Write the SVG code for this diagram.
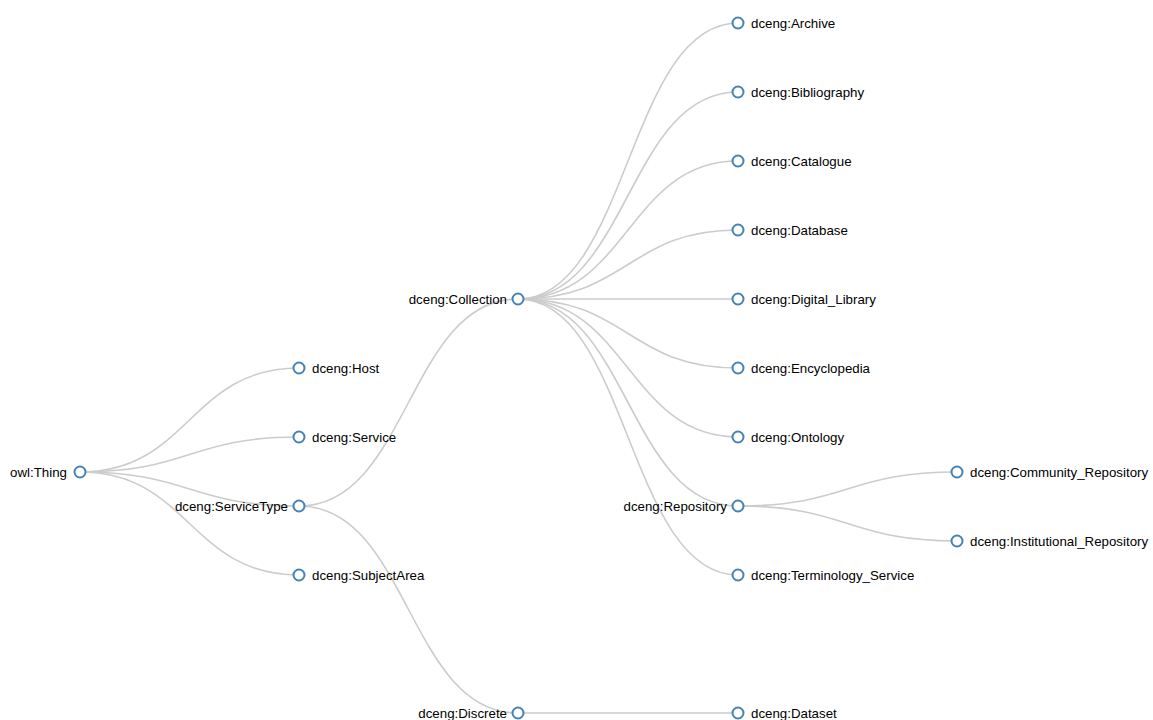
<svg xmlns="http://www.w3.org/2000/svg" width="1153" height="720" viewBox="0 0 1153 720">
<style>
.link{fill:none;stroke:#cccccc;stroke-width:1.6}
.node circle{fill:#fff;stroke:#4682b4;stroke-width:2}
.node text{font-family:"Liberation Sans",Arial,sans-serif;font-size:13.3px;fill:#000}
.l{text-anchor:start}
.r{text-anchor:end}
</style>
<rect width="1153" height="720" fill="#fff"/>
<g id="links">
<path class="link" d="M80,472C189.5,472 189.5,368 299,368"/>
<path class="link" d="M80,472C189.5,472 189.5,437 299,437"/>
<path class="link" d="M80,472C189.5,472 189.5,506 299,506"/>
<path class="link" d="M80,472C189.5,472 189.5,575 299,575"/>
<path class="link" d="M299,506C408.5,506 408.5,299 518,299"/>
<path class="link" d="M299,506C408.5,506 408.5,713 518,713"/>
<path class="link" d="M518,299C628,299 628,23 738,23"/>
<path class="link" d="M518,299C628,299 628,92 738,92"/>
<path class="link" d="M518,299C628,299 628,161 738,161"/>
<path class="link" d="M518,299C628,299 628,230 738,230"/>
<path class="link" d="M518,299C628,299 628,299 738,299"/>
<path class="link" d="M518,299C628,299 628,368 738,368"/>
<path class="link" d="M518,299C628,299 628,437 738,437"/>
<path class="link" d="M518,299C628,299 628,506 738,506"/>
<path class="link" d="M518,299C628,299 628,575 738,575"/>
<path class="link" d="M518,713C628,713 628,713 738,713"/>
<path class="link" d="M738,506C847.5,506 847.5,472 957,472"/>
<path class="link" d="M738,506C847.5,506 847.5,541 957,541"/>
</g>
<g id="n-thing" class="node"><circle cx="80" cy="472" r="5.5"/><text class="r" x="67" y="477">owl:Thing</text></g>
<g id="n-host" class="node"><circle cx="299" cy="368" r="5.5"/><text class="l" x="312" y="373">dceng:Host</text></g>
<g id="n-service" class="node"><circle cx="299" cy="437" r="5.5"/><text class="l" x="312" y="442">dceng:Service</text></g>
<g id="n-servicetype" class="node"><circle cx="299" cy="506" r="5.5"/><text class="r" x="288" y="511">dceng:ServiceType</text></g>
<g id="n-subjectarea" class="node"><circle cx="299" cy="575" r="5.5"/><text class="l" x="312" y="580">dceng:SubjectArea</text></g>
<g id="n-collection" class="node"><circle cx="518" cy="299" r="5.5"/><text class="r" x="507" y="304">dceng:Collection</text></g>
<g id="n-discrete" class="node"><circle cx="518" cy="713" r="5.5"/><text class="r" x="507" y="718">dceng:Discrete</text></g>
<g id="n-archive" class="node"><circle cx="738" cy="23" r="5.5"/><text class="l" x="751" y="28">dceng:Archive</text></g>
<g id="n-bibliography" class="node"><circle cx="738" cy="92" r="5.5"/><text class="l" x="751" y="97">dceng:Bibliography</text></g>
<g id="n-catalogue" class="node"><circle cx="738" cy="161" r="5.5"/><text class="l" x="751" y="166">dceng:Catalogue</text></g>
<g id="n-database" class="node"><circle cx="738" cy="230" r="5.5"/><text class="l" x="751" y="235">dceng:Database</text></g>
<g id="n-digital-library" class="node"><circle cx="738" cy="299" r="5.5"/><text class="l" x="751" y="304">dceng:Digital_Library</text></g>
<g id="n-encyclopedia" class="node"><circle cx="738" cy="368" r="5.5"/><text class="l" x="751" y="373">dceng:Encyclopedia</text></g>
<g id="n-ontology" class="node"><circle cx="738" cy="437" r="5.5"/><text class="l" x="751" y="442">dceng:Ontology</text></g>
<g id="n-repository" class="node"><circle cx="738" cy="506" r="5.5"/><text class="r" x="727" y="511">dceng:Repository</text></g>
<g id="n-terminology" class="node"><circle cx="738" cy="575" r="5.5"/><text class="l" x="751" y="580">dceng:Terminology_Service</text></g>
<g id="n-dataset" class="node"><circle cx="738" cy="713" r="5.5"/><text class="l" x="751" y="718">dceng:Dataset</text></g>
<g id="n-community" class="node"><circle cx="957" cy="472" r="5.5"/><text class="l" x="970" y="477">dceng:Community_Repository</text></g>
<g id="n-institutional" class="node"><circle cx="957" cy="541" r="5.5"/><text class="l" x="970" y="546">dceng:Institutional_Repository</text></g>
</svg>
